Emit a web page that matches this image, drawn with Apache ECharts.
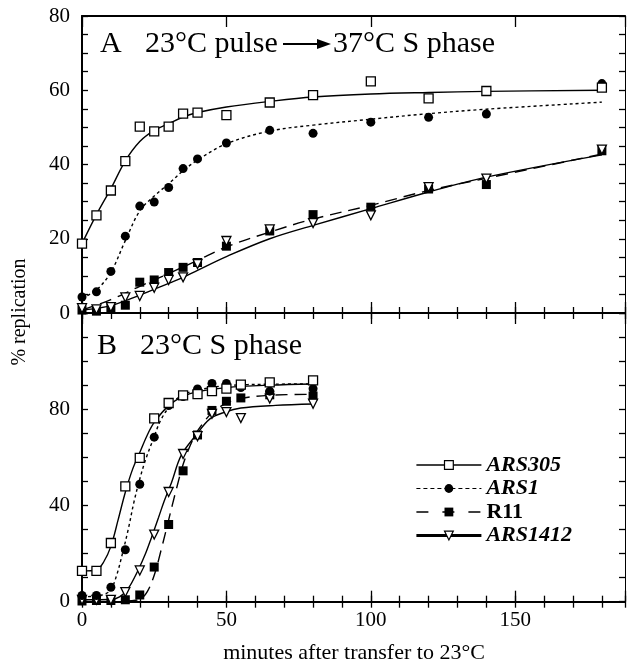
<!DOCTYPE html>
<html><head><meta charset="utf-8">
<script src="https://cdn.jsdelivr.net/npm/echarts@6/dist/echarts.min.js"></script>
<style>html,body{margin:0;padding:0;background:#fff}#c{width:628px;height:666px}</style>
</head><body><div id="c"></div>
<script>
// ---------- Data ----------
const seriesNames = ['ARS305', 'ARS1', 'R11', 'ARS1412'];
const xTickLabels = [0, 50, 100, 150];
const yTickLabelsA = [0, 20, 40, 60, 80];
const yTickLabelsB = [0, 40, 80];

// Panel A: 23°C pulse -> 37°C S phase
const timesA = [0, 5, 10, 15, 20, 25, 30, 35, 40, 50, 65, 80, 100, 120, 140, 180];
const A_ARS305  = [18.7, 26.3, 33.0, 40.9, 50.2, 48.9, 50.2, 53.7, 54.0, 53.3, 56.7, 58.7, 62.4, 57.8, 59.8, 60.7];
const A_ARS1    = [4.3, 5.7, 11.2, 20.7, 28.8, 29.9, 33.8, 38.9, 41.5, 45.8, 49.2, 48.4, 51.4, 52.7, 53.6, 61.8];
const A_R11     = [0.8, 0.5, 1.2, 2.1, 8.3, 8.9, 10.9, 12.3, 13.6, 18.0, 22.1, 26.5, 28.5, 33.4, 34.6, 43.7];
const A_ARS1412 = [1.3, 1.0, 1.6, 4.2, 4.6, 6.8, 8.9, 9.6, 13.2, 19.4, 22.5, 24.2, 26.3, 33.9, 36.2, 44.0];

// Panel A fitted curves
const fitA_ARS305_t  = [0, 5, 10, 15, 20, 25, 30, 35, 40, 50, 65, 80, 100, 120, 140, 180];
const fitA_ARS305_v  = [18.7, 26.5, 33.5, 41.0, 46.2, 49.2, 51.0, 52.8, 54.0, 55.5, 57.0, 58.2, 59.0, 59.4, 59.7, 60.0];
const fitA_ARS1_t    = [0, 5, 10, 15, 20, 25, 30, 35, 40, 50, 65, 80, 100, 120, 140, 180];
const fitA_ARS1_v    = [4.0, 6.2, 11.0, 19.5, 27.5, 31.5, 34.8, 38.3, 41.2, 45.6, 49.0, 50.6, 52.2, 53.7, 54.9, 56.8];
const fitA_R11_t     = [0, 10, 20, 30, 40, 50, 65, 80, 100, 120, 140, 180];
const fitA_R11_v     = [0.8, 3.6, 7.2, 10.6, 14.2, 17.8, 21.8, 25.3, 29.0, 33.0, 36.3, 42.8];
const fitA_ARS1412_t = [0, 10, 20, 30, 35, 40, 50, 65, 80, 100, 120, 140, 180];
const fitA_ARS1412_v = [0.8, 2.0, 4.8, 8.0, 9.6, 11.5, 15.2, 20.0, 23.6, 28.1, 32.6, 36.6, 42.6];

// Panel B: 23°C S phase
const timesB = [0, 5, 10, 15, 20, 25, 30, 35, 40, 45, 50, 55, 65, 80];
const B_ARS305  = [12.8, 12.8, 24.4, 47.9, 59.8, 76.2, 82.6, 85.8, 86.3, 87.5, 88.6, 90.2, 91.2, 92.0];
const B_ARS1    = [2.6, 2.6, 6.0, 21.6, 48.8, 68.4, 81.5, 85.3, 88.4, 90.7, 90.7, 89.0, 87.5, 88.5];
const B_R11     = [0.3, 0.5, 0.5, 0.8, 2.8, 14.4, 32.1, 54.4, 69.3, 79.5, 83.3, 84.7, 86.0, 85.5];
const B_ARS1412 = [0.8, 0.8, 0.8, 4.0, 13.0, 27.9, 45.6, 61.4, 68.8, 78.1, 78.8, 76.3, 84.4, 82.3];

// Panel B fitted curves
const fitB_ARS305_t  = [0, 5, 7.5, 10, 12.5, 15, 17.5, 20, 22.5, 25, 30, 35, 40, 50, 65, 80];
const fitB_ARS305_v  = [12.8, 13.2, 16.5, 23.0, 34.0, 45.5, 55.0, 62.0, 69.0, 74.5, 81.5, 85.3, 87.3, 89.0, 90.0, 90.5];
const fitB_ARS1_t    = [0, 5, 8, 10, 12, 14, 16, 18, 20, 22, 24.5, 27.5, 32, 36, 40, 50, 65, 80];
const fitB_ARS1_v    = [2.0, 2.4, 3.2, 5.0, 11.0, 20.0, 30.0, 41.5, 51.0, 59.0, 67.0, 76.0, 83.5, 86.5, 88.0, 89.8, 90.4, 90.5];
const fitB_R11_t     = [15, 20, 22.5, 25, 27.5, 30, 32.5, 35, 37.5, 40, 45, 50, 55, 65, 80];
const fitB_R11_v     = [0.3, 1.0, 4.0, 11.0, 22.0, 34.0, 46.0, 57.0, 65.0, 71.0, 78.5, 82.5, 84.5, 85.8, 86.2];
const fitB_ARS1412_t = [0, 10, 13, 16, 19.5, 22, 24, 26.5, 28.5, 31, 34.3, 39.5, 44.3, 49.5, 55, 67, 80];
const fitB_ARS1412_v = [0.8, 0.9, 2.0, 5.5, 13.3, 20.0, 26.5, 35.0, 42.0, 49.5, 60.7, 69.3, 76.0, 78.8, 80.5, 81.6, 82.2];

// ---------- Chart ----------
const FONT = 'Liberation Serif';
const zip = (t, v) => t.map((x, i) => [x, v[i]]);
const TRI_DOWN = 'path://M0,0 L10,0 L5,10 Z';

const styles = {
  ARS305:  { symbol: 'rect',   size: 9,  item: { color: '#fff', borderColor: '#000', borderWidth: 1.3, opacity: 1 }, line: { color: '#000', width: 1.4, type: 'solid' } },
  ARS1:    { symbol: 'circle', size: 9,  item: { color: '#000', opacity: 1 }, line: { color: '#000', width: 1.4, type: [3, 3] } },
  R11:     { symbol: 'rect',   size: 9,  item: { color: '#000', opacity: 1 }, line: { color: '#000', width: 1.4, type: [12, 7] } },
  ARS1412: { symbol: TRI_DOWN, size: 9,  item: { color: '#fff', borderColor: '#000', borderWidth: 1.3, opacity: 1 }, line: { color: '#000', width: 1.4, type: 'solid' } }
};

const pointsA = { ARS305: A_ARS305, ARS1: A_ARS1, R11: A_R11, ARS1412: A_ARS1412 };
const pointsB = { ARS305: B_ARS305, ARS1: B_ARS1, R11: B_R11, ARS1412: B_ARS1412 };
const fitsA = { ARS305: zip(fitA_ARS305_t, fitA_ARS305_v), ARS1: zip(fitA_ARS1_t, fitA_ARS1_v), R11: zip(fitA_R11_t, fitA_R11_v), ARS1412: zip(fitA_ARS1412_t, fitA_ARS1412_v) };
const fitsB = { ARS305: zip(fitB_ARS305_t, fitB_ARS305_v), ARS1: zip(fitB_ARS1_t, fitB_ARS1_v), R11: zip(fitB_R11_t, fitB_R11_v), ARS1412: zip(fitB_ARS1412_t, fitB_ARS1412_v) };

const series = [];
// curves first (legend picks the first series of each name)
seriesNames.forEach(n => {
  const s = styles[n];
  [[fitsA[n], 0, 0], [fitsB[n], 4, 2]].forEach(([d, xi, yi]) => {
    series.push({
      type: 'line', name: n, data: d, xAxisIndex: xi, yAxisIndex: yi,
      smooth: 0.35, showSymbol: false, symbol: s.symbol, symbolSize: s.size,
      itemStyle: s.item, lineStyle: s.line, silent: true, z: 2
    });
  });
});
// markers (draw order: R11, ARS1412, ARS1, ARS305)
['R11', 'ARS1412', 'ARS1', 'ARS305'].forEach(n => {
  const s = styles[n];
  [[zip(timesA, pointsA[n]), 0, 0], [zip(timesB, pointsB[n]), 4, 2]].forEach(([d, xi, yi]) => {
    series.push({
      type: 'scatter', name: n, data: d, xAxisIndex: xi, yAxisIndex: yi,
      symbol: s.symbol, symbolSize: s.size, itemStyle: s.item, silent: true, z: 3
    });
  });
});

const XMAX = 188;
const axisLine = { show: true, onZero: false, lineStyle: { color: '#000', width: 2 } };
function xAx(grid, pos, major, labels) {
  return {
    type: 'value', gridIndex: grid, position: pos, min: 0, max: XMAX,
    interval: major ? 50 : 10,
    axisLine: major ? axisLine : { show: false },
    axisTick: { show: true, inside: true, length: major ? 11 : 6, lineStyle: { color: '#000', width: 1.3 } },
    axisLabel: labels ? {
      show: true, margin: 8, fontFamily: FONT, fontSize: 21, color: '#000',
      formatter: v => (xTickLabels.indexOf(v) >= 0 ? String(v) : '')
    } : { show: false },
    splitLine: { show: false }
  };
}
function yAx(grid, pos, max, interval, tickLabels) {
  return {
    type: 'value', gridIndex: grid, position: pos, min: 0, max: max, interval: interval,
    axisLine: pos === 'left' ? axisLine : { show: true, onZero: false, lineStyle: { color: '#000', width: 1 } },
    axisTick: { show: true, inside: true, length: 6, lineStyle: { color: '#000', width: 1.3 } },
    minorTick: { show: true, splitNumber: 4, length: 6, lineStyle: { color: '#000', width: 1.3 } },
    axisLabel: tickLabels ? {
      show: true, margin: 12, fontFamily: FONT, fontSize: 21, color: '#000',
      formatter: v => (tickLabels.indexOf(v) >= 0 ? String(v) : '')
    } : { show: false },
    splitLine: { show: false }, minorSplitLine: { show: false }
  };
}

const legendRich = {
  i: { fontFamily: FONT, fontStyle: 'italic', fontWeight: 'bold', fontSize: 22, lineHeight: 22, color: '#000' },
  b: { fontFamily: FONT, fontWeight: 'bold', fontSize: 22, lineHeight: 22, color: '#000' }
};

const option = {
  animation: false,
  backgroundColor: '#fff',
  grid: [
    { left: 82, top: 16, width: 543, height: 297 },
    { left: 82, top: 313, width: 543, height: 288.7 }
  ],
  xAxis: [
    xAx(0, 'bottom', true, false),   // 0
    xAx(0, 'bottom', false, false),  // 1
    xAx(0, 'top', true, false),      // 2
    xAx(0, 'top', false, false),     // 3
    xAx(1, 'bottom', true, true),    // 4
    xAx(1, 'bottom', false, false),  // 5
    xAx(1, 'top', true, false),      // 6
    xAx(1, 'top', false, false)      // 7
  ],
  yAxis: [
    yAx(0, 'left', 80, 20, yTickLabelsA),
    yAx(0, 'right', 80, 20, null),
    yAx(1, 'left', 120, 40, yTickLabelsB),
    yAx(1, 'right', 120, 40, null)
  ],
  legend: {
    orient: 'vertical', left: 415, top: 454, padding: 0,
    itemWidth: 65, itemHeight: 11, itemGap: 1.5,
    selectedMode: false,
    textStyle: { fontFamily: FONT, fontSize: 22, lineHeight: 22, color: '#000', rich: legendRich },
    formatter: n => (n === 'R11' ? '{b|' + n + '}' : '{i|' + n + '}'),
    data: [
      { name: 'ARS305', itemStyle: { color: '#fff', borderColor: '#000', borderWidth: 1.2 }, lineStyle: { color: '#000', width: 1.5, type: 'solid' } },
      { name: 'ARS1', itemStyle: { color: '#000', borderWidth: 0 }, lineStyle: { color: '#000', width: 1.2, type: [4, 3] } },
      { name: 'R11', itemStyle: { color: '#000', borderWidth: 0 }, lineStyle: { color: '#000', width: 1.5, type: [12, 14] } },
      { name: 'ARS1412', itemStyle: { color: '#fff', borderColor: '#000', borderWidth: 1.2 }, lineStyle: { color: '#000', width: 2.8, type: 'solid' } }
    ]
  },
  graphic: [
    { type: 'text', left: 100, top: 29, style: { text: 'A', font: '30px "Liberation Serif"', fill: '#000' } },
    { type: 'text', left: 145, top: 29, style: { text: '23°C pulse', font: '30px "Liberation Serif"', fill: '#000' } },
    { type: 'line', shape: { x1: 283, y1: 44, x2: 322, y2: 44 }, style: { stroke: '#000', lineWidth: 2 } },
    { type: 'polygon', shape: { points: [[317, 39], [331, 44], [317, 49]] }, style: { fill: '#000' } },
    { type: 'text', left: 333, top: 29, style: { text: '37°C S phase', font: '30px "Liberation Serif"', fill: '#000' } },
    { type: 'text', left: 97, top: 331, style: { text: 'B', font: '30px "Liberation Serif"', fill: '#000' } },
    { type: 'text', left: 140, top: 331, style: { text: '23°C S phase', font: '30px "Liberation Serif"', fill: '#000' } },
    { type: 'text', x: 20, y: 312, rotation: Math.PI / 2,
      style: { text: '% replication', font: '20px "Liberation Serif"', fill: '#000', align: 'center', verticalAlign: 'middle' } },
    { type: 'text', x: 354, y: 653,
      style: { text: 'minutes after transfer to 23°C', font: '22px "Liberation Serif"', fill: '#000', align: 'center', verticalAlign: 'middle' } }
  ],
  series: series
};

const chart = echarts.init(document.getElementById('c'), null, { renderer: 'canvas' });
chart.setOption(option);
</script>
</body></html>
